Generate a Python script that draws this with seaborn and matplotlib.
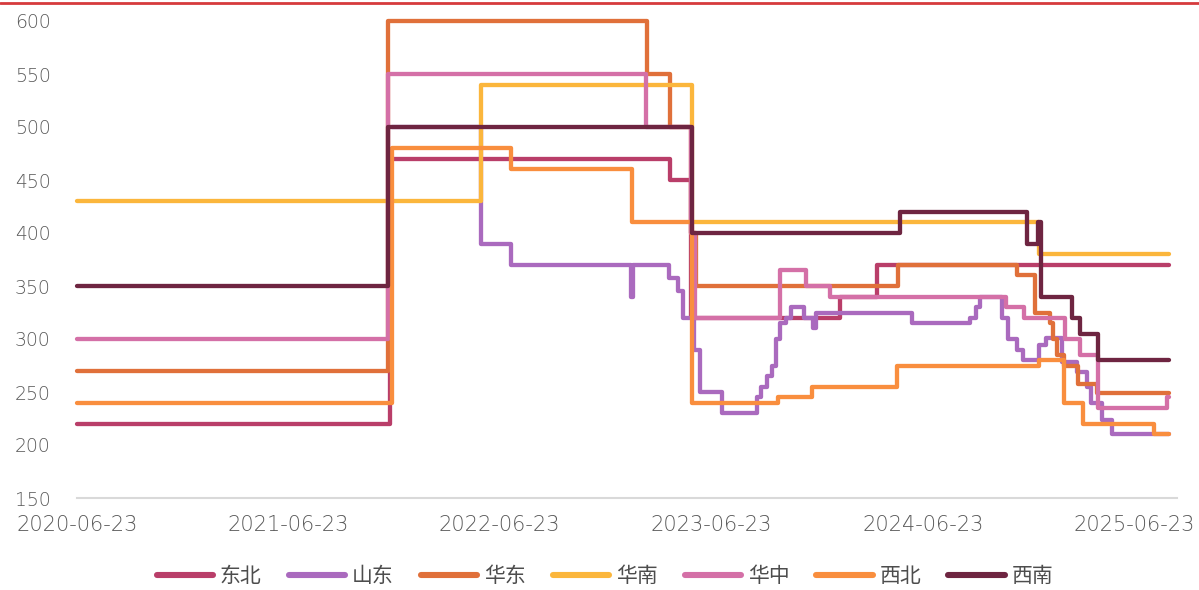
import pandas as pd
import matplotlib.pyplot as plt
import matplotlib.dates as mdates
from matplotlib.lines import Line2D
import seaborn as sns

# step-change points (date the new price starts, price)
END_DATE = "2025-08-22"

dongbei_dates = ["2020-06-23", "2021-12-16", "2023-04-13", "2023-05-20", "2024-02-01", "2024-04-05"]
dongbei_vals = [220, 470, 450, 320, 340, 370]

shandong_dates = ["2021-12-19", "2022-05-21", "2022-07-12", "2023-02-05", "2023-02-09", "2023-04-12",
                  "2023-04-27", "2023-05-06", "2023-05-25", "2023-06-04", "2023-07-12", "2023-09-10",
                  "2023-09-17", "2023-09-27", "2023-10-07", "2023-10-13", "2023-10-20", "2023-10-30",
                  "2023-11-09", "2023-12-01", "2023-12-17", "2023-12-21", "2024-06-04", "2024-09-12",
                  "2024-09-22", "2024-09-30", "2024-11-07", "2024-11-17", "2024-12-03", "2024-12-13",
                  "2025-01-09", "2025-01-21", "2025-02-19", "2025-03-16", "2025-04-02", "2025-04-10",
                  "2025-04-29", "2025-05-16"]
shandong_vals = [500, 390, 370, 340, 370, 358,
                 345, 320, 290, 250, 230, 245,
                 255, 265, 275, 300, 315, 320,
                 330, 320, 310, 325, 315, 320,
                 330, 340, 320, 300, 290, 280,
                 294, 301, 278, 269, 255, 240,
                 224, 210]

huadong_dates = ["2020-06-23", "2021-12-13", "2023-03-04", "2023-04-14", "2023-05-20", "2023-05-29",
                 "2024-05-11", "2024-12-03", "2025-01-03", "2025-01-28", "2025-02-03", "2025-02-10",
                 "2025-02-21", "2025-03-18", "2025-04-20"]
huadong_vals = [270, 600, 550, 500, 400, 350,
                370, 360, 325, 315, 300, 285,
                275, 258, 249]

huanan_dates = ["2020-06-23", "2022-05-21", "2023-05-22", "2025-01-09"]
huanan_vals = [430, 540, 410, 380]

huazhong_dates = ["2020-06-23", "2021-12-13", "2023-03-03", "2023-05-20", "2023-05-27", "2023-10-20",
                  "2023-12-05", "2024-01-14", "2024-11-13", "2024-12-14", "2025-02-24", "2025-03-22",
                  "2025-04-22", "2025-08-19"]
huazhong_vals = [300, 550, 500, 400, 320, 365,
                 350, 340, 330, 320, 300, 285,
                 235, 245]

xibei_dates = ["2020-06-23", "2021-12-19", "2022-07-12", "2023-02-07", "2023-05-22", "2023-10-16",
               "2023-12-14", "2024-05-09", "2025-01-09", "2025-02-21", "2025-03-27", "2025-07-28"]
xibei_vals = [240, 480, 460, 410, 240, 245,
              255, 275, 280, 240, 220, 210]

xinan_dates = ["2020-06-23", "2021-12-12", "2023-05-22", "2024-05-14", "2024-12-20", "2025-01-08",
               "2025-01-13", "2025-03-08", "2025-03-22", "2025-04-22"]
xinan_vals = [350, 500, 400, 420, 390, 410,
              340, 320, 305, 280]

names = ["东北", "山东", "华东", "华南", "华中", "西北", "西南"]
colors = ["#B93E69", "#AA6ABE", "#E0703A", "#FBB63C", "#D470A7", "#F98E3E", "#6E2541"]

series = [
    (dongbei_dates, dongbei_vals),
    (shandong_dates, shandong_vals),
    (huadong_dates, huadong_vals),
    (huanan_dates, huanan_vals),
    (huazhong_dates, huazhong_vals),
    (xibei_dates, xibei_vals),
    (xinan_dates, xinan_vals),
]

rows = []
for name, (ds, vs) in zip(names, series):
    for d, v in zip(ds + [END_DATE], vs + [vs[-1]]):
        rows.append((name, d, v))
df = pd.DataFrame(rows, columns=["region", "date", "value"])
df["date"] = pd.to_datetime(df["date"])

sns.set_style("white")
plt.rcParams["font.family"] = ["Noto Sans CJK SC", "DejaVu Sans"]

fig = plt.figure(figsize=(11.99, 5.9), dpi=100)
ax = fig.add_axes([77 / 1199, 92 / 590, 1100 / 1199, 477 / 590])

sns.lineplot(data=df, x="date", y="value", hue="region", hue_order=names,
             palette=colors, drawstyle="steps-post", estimator=None, linewidth=3.1,
             solid_joinstyle="round", solid_capstyle="round", clip_on=False, ax=ax)

ax.set_xlim(pd.Timestamp("2020-06-23"), pd.Timestamp("2025-09-05"))
ax.set_ylim(150, 600)
ax.set_yticks(range(150, 601, 50))
xt = pd.to_datetime(["2020-06-23", "2021-06-23", "2022-06-23", "2023-06-23", "2024-06-23", "2025-06-23"])
ax.set_xticks(xt)
ax.xaxis.set_major_formatter(mdates.DateFormatter("%Y-%m-%d"))
ax.set_xlabel("")
ax.set_ylabel("")

for s in ["top", "right", "left"]:
    ax.spines[s].set_visible(False)
ax.spines["bottom"].set_color("#D9D9D9")
ax.spines["bottom"].set_linewidth(1.5)
ax.tick_params(axis="x", direction="out", length=6, width=1.2, color="#D9D9D9",
               labelsize=15, labelcolor="#595959", pad=6)
ax.tick_params(axis="y", length=0, labelsize=13.5, labelcolor="#595959", pad=19)
for lab in ax.get_xticklabels() + ax.get_yticklabels():
    lab.set_fontfamily("DejaVu Sans")
    lab.set_fontweight("light")

handles, labels = ax.get_legend_handles_labels()
ax.get_legend().remove()
for h in handles:
    h.set_linewidth(4.4)
    h.set_solid_capstyle("round")
fig.legend(handles, labels, loc="center", bbox_to_anchor=(0.5046, 0.024), ncol=7,
           frameon=False, fontsize=15, handlelength=2.7, handletextpad=0.33,
           columnspacing=1.3, labelcolor="#4D4D4D")

# thin red rule along the top edge
fig.add_artist(Line2D([0, 1], [1 - 3 / 590, 1 - 3 / 590], color="#D63A3C", lw=2,
                      transform=fig.transFigure))

fig.savefig("out.png", dpi=100)
